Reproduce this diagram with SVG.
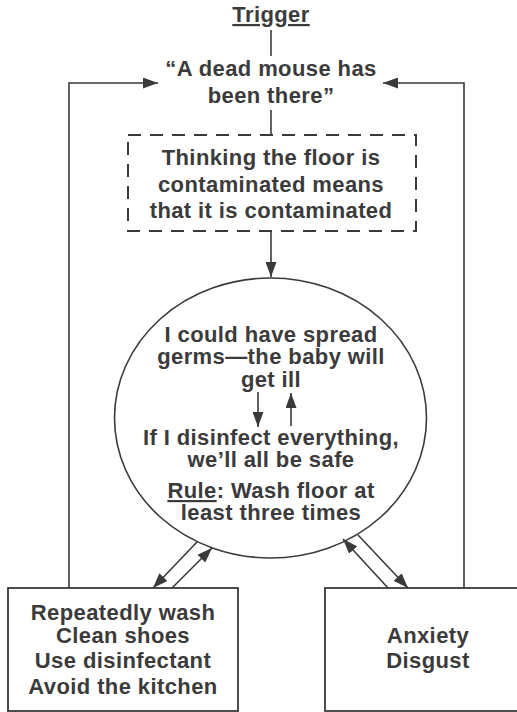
<svg xmlns="http://www.w3.org/2000/svg" width="517" height="712" viewBox="0 0 517 712">
  <style>
    text { font-family: "Liberation Sans", Arial, sans-serif; font-weight: bold; font-size: 22px; letter-spacing: 0.4px; fill: #3b3b3b; text-anchor: middle; }
    .ln { stroke: #3a3a3a; stroke-width: 1.6; fill: none; }
    .box { stroke: #3a3a3a; stroke-width: 1.8; fill: #ffffff; }
    .dash { stroke: #3a3a3a; stroke-width: 2; fill: none; stroke-dasharray: 13 9; }
    .u { text-decoration: underline; }
  </style>
  <defs>
    <marker id="ah" viewBox="0 0 15 11" refX="15" refY="5.5" markerWidth="15" markerHeight="11" markerUnits="userSpaceOnUse" orient="auto">
      <path d="M0,0 L15,5.5 L0,11 Z" fill="#3a3a3a"/>
    </marker>
  </defs>

  <rect width="517" height="712" fill="#ffffff"/>

  <g id="connectors">
    <!-- trigger stem -->
    <line class="ln" x1="271" y1="30" x2="271" y2="56"/>
    <line class="ln" x1="271" y1="110" x2="271" y2="136"/>
    <!-- belief to central appraisal -->
    <line class="ln" x1="271" y1="232" x2="271" y2="277" marker-end="url(#ah)"/>
    <!-- feedback loops back to the trigger -->
    <polyline class="ln" points="69,588 69,83 158,83" marker-end="url(#ah)"/>
    <polyline class="ln" points="464,588 464,83 383,83" marker-end="url(#ah)"/>
    <!-- thought ↔ safety belief -->
    <line class="ln" x1="258" y1="392" x2="258" y2="427" marker-end="url(#ah)"/>
    <line class="ln" x1="291" y1="426" x2="291" y2="393" marker-end="url(#ah)"/>
    <!-- behaviours -->
    <line class="ln" x1="197" y1="542" x2="153" y2="588" marker-end="url(#ah)"/>
    <line class="ln" x1="172" y1="588" x2="212" y2="548" marker-end="url(#ah)"/>
    <!-- emotions -->
    <line class="ln" x1="388" y1="588" x2="343" y2="539" marker-end="url(#ah)"/>
    <line class="ln" x1="358" y1="535" x2="408" y2="588" marker-end="url(#ah)"/>
  </g>

  <g id="trigger">
    <text x="271" y="22" class="u" font-size="21" letter-spacing="0">Trigger</text>
    <text x="271" y="76">“A dead mouse has</text>
    <text x="271" y="103">been there”</text>
  </g>

  <g id="belief">
    <rect class="dash" x="128" y="135" width="288" height="96"/>
    <text x="271" y="165">Thinking the floor is</text>
    <text x="271" y="192">contaminated means</text>
    <text x="271" y="218">that it is contaminated</text>
  </g>

  <g id="appraisal">
    <ellipse class="ln" cx="270.5" cy="418" rx="156" ry="140"/>
    <text x="271" y="342">I could have spread</text>
    <text x="271" y="364">germs—the baby will</text>
    <text x="271" y="387">get ill</text>
    <text x="271" y="445">If I disinfect everything,</text>
    <text x="271" y="467">we’ll all be safe</text>
    <text x="271" y="498"><tspan class="u">Rule</tspan>: Wash floor at</text>
    <text x="271" y="520">least three times</text>
  </g>

  <g id="behaviours">
    <rect class="box" x="8" y="588" width="230" height="123"/>
    <text x="123" y="620">Repeatedly wash</text>
    <text x="123" y="643">Clean shoes</text>
    <text x="123" y="668">Use disinfectant</text>
    <text x="123" y="694">Avoid the kitchen</text>
  </g>

  <g id="emotions">
    <rect class="box" x="325" y="588" width="200" height="123"/>
    <text x="428" y="643">Anxiety</text>
    <text x="428" y="668">Disgust</text>
  </g>
</svg>
